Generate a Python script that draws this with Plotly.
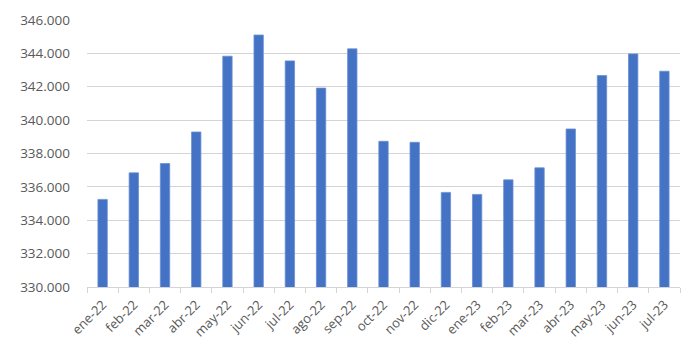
import plotly.graph_objects as go

months = ["ene-22", "feb-22", "mar-22", "abr-22", "may-22", "jun-22", "jul-22",
          "ago-22", "sep-22", "oct-22", "nov-22", "dic-22", "ene-23", "feb-23",
          "mar-23", "abr-23", "may-23", "jun-23", "jul-23"]
values = [335250, 336840, 337400, 339290, 343830, 345100, 343550,
          341920, 344270, 338730, 338670, 335670, 335550, 336420,
          337140, 339470, 342670, 343970, 342930]
y_ticks = [330000, 332000, 334000, 336000, 338000, 340000, 342000, 344000, 346000]

fig = go.Figure(go.Bar(
    x=months, y=values,
    marker=dict(color="#4472C4", line=dict(color="#6A8FD3", width=0.8)),
    width=0.3,
))

font_family = "Open Sans"
fig.update_layout(
    width=700, height=348,
    margin=dict(l=87, r=20, t=20, b=61),
    paper_bgcolor="white", plot_bgcolor="white",
    separators=",.",
    showlegend=False,
    font=dict(family=font_family, size=13, color="#595959"),
)
fig.update_yaxes(
    range=[330000, 346000], tickvals=y_ticks, tickformat=",d",
    showgrid=True, gridcolor="#D4D4D4", gridwidth=1,
    zeroline=False, showline=False, ticks="",
    tickfont=dict(size=13.5, color="#595959"),
    ticklabelstandoff=16, automargin=False,
)
fig.update_xaxes(
    tickangle=-45, showline=True, linecolor="#D4D4D4", linewidth=1,
    ticks="outside", tickson="boundaries", ticklen=5, tickcolor="#D4D4D4",
    tickfont=dict(size=13, color="#595959"),
    ticklabelstandoff=4, automargin=False,
    showgrid=False,
)

fig.write_html("out.html")
